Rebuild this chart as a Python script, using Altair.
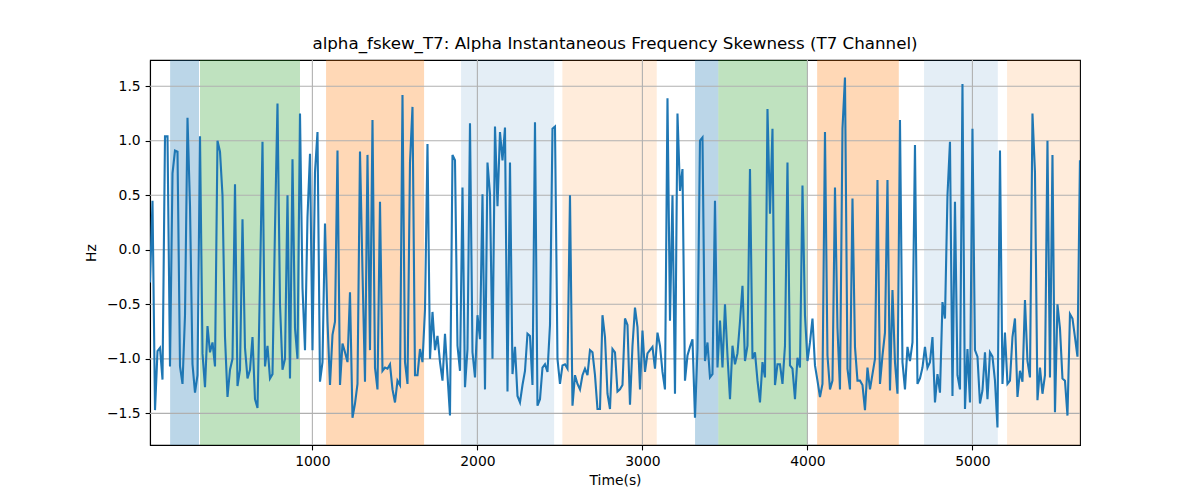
import pandas as pd
import altair as alt

# sample clock of the signal (seconds)
T0 = 16.0
DT = 15.15

# alpha instantaneous frequency skewness, one value per sample
skew = [
    -0.3, 0.45, -1.47, -0.93, -0.9, -1.19, 1.04, 1.04, -1.07, 0.7,
    0.91, 0.9, -1.07, -1.23, -0.6, 1.21, 0.4, -1.05, -1.31, -1.15,
    1.04, -0.95, -1.26, -0.7, -0.94, -0.85, -1.07, 1.0, 0.9, 0.5,
    -0.8, -1.35, -1.1, -1.0, 0.6, -1.25, -1.1, 0.28, -0.9, -1.18,
    -1.1, -0.8, -1.37, -1.45, -0.3, 0.99, -1.07, -0.88, -1.18, -1.14,
    0.2, 1.34, -0.5, -1.1, -1.0, 0.5, -1.18, 0.83, -0.72, -1.0,
    1.25, -0.35, -0.92, 0.3, 0.88, -0.92, 0.71, 1.08, -1.21, -1.03,
    0.24, -0.66, -1.24, -0.78, -0.66, 0.91, -1.24, -0.86, -0.94, -1.03,
    -0.39, -1.54, -1.41, -1.23, 0.9, -0.2, -1.21, 0.87, -0.92, 1.19,
    -1.08, -1.28, 0.44, -1.11, -1.08, -1.09, -1.05, -1.28, -1.4, -1.2,
    -1.24, 1.42, -1.03, -1.23, 0.8, 1.31, -1.15, -1.15, -0.91, -1.03,
    -0.55, 0.97, -1.0, -0.57, -0.92, -0.79, -1.03, -1.2, -0.77, -1.15,
    -1.52, 0.87, 0.82, -0.88, -1.11, 0.57, -1.26, -0.91, 1.16, -0.94,
    -1.17, -0.6, -0.82, 0.51, -1.28, 0.8, 0.51, -1.0, 1.13, 0.4,
    1.08, 0.82, 1.12, -1.3, 0.8, -1.14, -0.89, -1.34, -1.4, -1.24,
    -1.11, -0.77, -0.79, -1.24, 1.17, -1.43, -1.37, -1.08, -1.05, -1.12,
    -0.69, 1.11, 1.13, -1.0, -1.23, -1.06, -1.05, -1.09, 0.5, -1.43,
    -1.15, -1.23, -1.28, -1.15, -1.09, -1.15, -0.92, -0.94, -1.15, -1.46,
    -1.46, -0.6, -0.8, -1.32, -1.46, -0.91, -0.94, -1.3, -1.28, -1.24,
    -0.63, -0.69, -1.42, -0.88, -0.53, -0.71, -1.28, -0.74, -1.12, -0.95,
    -0.92, -0.89, -1.09, -0.76, -0.88, -1.12, -1.28, 1.39, -0.65, 0.5,
    -1.32, 1.25, 0.54, 0.74, -1.2, -0.97, -0.89, -0.82, -1.54, -0.91,
    1.0, 1.03, -1.02, -0.85, -1.17, -1.14, 0.45, -1.08, -0.65, -1.08,
    -0.5, -0.97, -1.37, -0.88, -1.05, -0.95, -0.66, -0.33, -1.02, -0.88,
    0.74, -1.0, -0.94, -1.2, -1.4, -1.03, -1.17, 1.29, 0.33, 1.11,
    -1.24, -1.05, -1.05, -1.23, -0.88, 0.8, -1.06, -1.09, -1.37, -0.99,
    -1.08, 0.59, -0.6, -1.02, -0.85, -0.63, -1.06, -1.2, -1.35, -1.23,
    1.08, -0.97, -1.28, -1.2, 0.57, -0.72, -1.28, 1.11, 1.58, -1.09,
    -1.28, 0.47, -0.89, -1.2, -1.2, -1.24, -1.47, -1.08, -1.28, -1.14,
    -1.0, 0.64, -1.23, -0.97, -0.76, 0.64, -1.29, -0.37, -1.03, -1.32,
    1.19, -1.03, -1.28, -0.89, -1.02, -0.85, 0.96, -1.23, -1.18, -1.08,
    -0.89, -1.08, -1.03, -0.8, -1.4, -1.14, -1.31, -0.48, -0.63, 0.5,
    0.99, -1.34, 0.44, -1.15, -1.28, 1.52, -1.46, -0.91, -1.4, 1.11,
    -0.92, -0.98, -1.41, -1.29, -0.94, -1.37, -0.94, -0.98, -1.2, -1.63,
    0.91, -1.23, -0.76, -1.23, -1.2, -0.8, -0.63, -1.35, -1.11, -1.21,
    -0.46, -1.02, -1.17, 1.25, 0.71, -1.38, -1.08, -1.32, -1.15, 1.0,
    -1.17, 0.87, -1.49, -0.5, -0.72, -1.18, -1.2, -1.52, -0.59, -0.63,
    -0.8, -0.98, 0.82,
]

# shaded segments
band_start = [138, 319, 1083, 1901, 2515, 3319, 3460, 4059, 4707, 5210]
band_end = [313, 925, 1677, 2465, 3087, 3460, 4002, 4554, 5154, 5652]
band_color = ['#1f77b4', '#2ca02c', '#ff7f0e', '#1f77b4', '#ff7f0e',
              '#1f77b4', '#2ca02c', '#ff7f0e', '#1f77b4', '#ff7f0e']
band_alpha = [0.3, 0.3, 0.3, 0.12, 0.15, 0.3, 0.3, 0.3, 0.12, 0.15]

x_ticks = [1000, 2000, 3000, 4000, 5000]
y_ticks = [-1.5, -1.0, -0.5, 0.0, 0.5, 1.0, 1.5]

X_DOMAIN = [16, 5652]
Y_DOMAIN = [-1.79, 1.74]
FONT = 'DejaVu Sans'

df = pd.DataFrame({
    'time': [T0 + i * DT for i in range(len(skew))],
    'skew': skew,
})
bands = pd.DataFrame({'start': band_start, 'end': band_end,
                      'color': band_color, 'alpha': band_alpha})

x_scale = alt.Scale(domain=X_DOMAIN, nice=False, zero=False)
y_scale = alt.Scale(domain=Y_DOMAIN, nice=False, zero=False)

x_axis = alt.Axis(values=x_ticks, format='d', grid=False, title='Time(s)',
                  tickSize=4.9, labelPadding=4.9, titlePadding=5)
y_axis = alt.Axis(values=y_ticks, format='.1f', grid=False, title='Hz',
                  tickSize=4.9, labelPadding=4.9, titlePadding=8)

shade = alt.Chart(bands).mark_rect().encode(
    x=alt.X('start:Q', scale=x_scale, axis=x_axis),
    x2='end:Q',
    color=alt.Color('color:N', scale=None),
    opacity=alt.Opacity('alpha:Q', scale=None),
)

vgrid = alt.Chart(pd.DataFrame({'t': x_ticks})).mark_rule(
    color='#b0b0b0', strokeWidth=1.1
).encode(x=alt.X('t:Q', scale=x_scale))

hgrid = alt.Chart(pd.DataFrame({'v': y_ticks})).mark_rule(
    color='#b0b0b0', strokeWidth=1.1
).encode(y=alt.Y('v:Q', scale=y_scale, axis=y_axis))

line = alt.Chart(df).mark_line(color='#1f77b4', strokeWidth=2.1, clip=True).encode(
    x=alt.X('time:Q', scale=x_scale),
    y=alt.Y('skew:Q', scale=y_scale),
)

chart = alt.layer(shade, vgrid, hgrid, line).properties(
    width=930,
    height=385,
    title=alt.Title('alpha_fskew_T7: Alpha Instantaneous Frequency Skewness (T7 Channel)',
                    font=FONT, fontSize=16.7, fontWeight='normal', color='black',
                    anchor='middle', offset=7),
    autosize=alt.AutoSizeParams(type='none'),
    padding={'left': 142, 'top': 52, 'right': 112, 'bottom': 47},
).configure_axis(
    labelFont=FONT, titleFont=FONT, labelFontSize=13.9, titleFontSize=13.9,
    labelColor='black', titleColor='black', titleFontWeight='normal',
    domainColor='black', tickColor='black', domainWidth=1.1, tickWidth=1.1,
).configure_view(
    stroke='black', strokeWidth=1.1
)

chart.save('out.html', embed_options={'renderer': 'svg', 'actions': False})
